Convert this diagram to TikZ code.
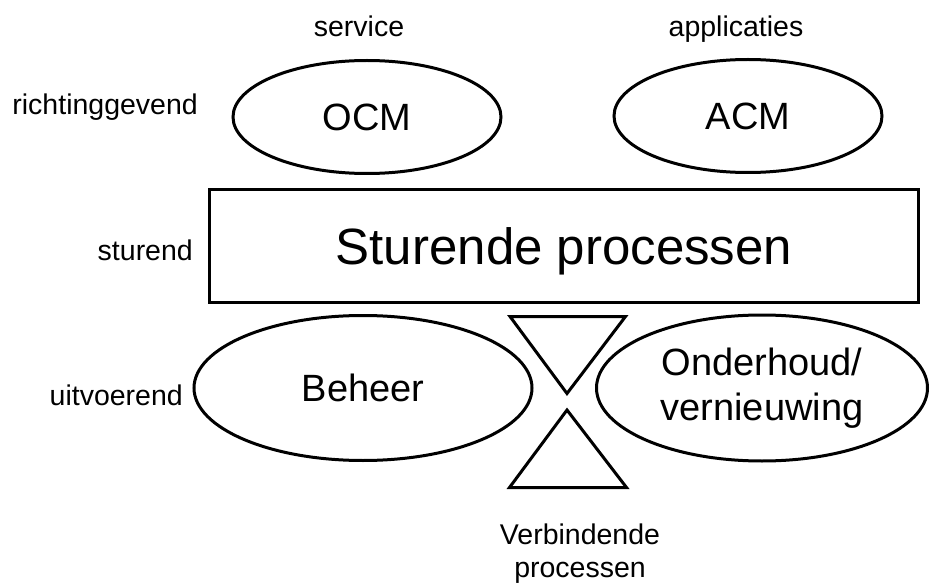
\documentclass[tikz,border=0pt]{standalone}
\usepackage{fontspec}
\setmainfont{Liberation Sans}
\usetikzlibrary{shapes.geometric}
\begin{document}
\begin{tikzpicture}[x=1pt,y=-1pt,
  ell/.style={draw,ellipse,line width=3pt,inner sep=0pt,font=\fontsize{38}{45}\selectfont,align=center},
  lbl/.style={font=\fontsize{28.5}{33}\selectfont,inner sep=0pt},
  tri/.style={draw,line width=3pt,line join=miter}]
\useasboundingbox[fill=white] (0,0) rectangle (930,583);
% side and top labels
\node[lbl,anchor=base] (service) at (359,37) {service};
\node[lbl,anchor=base] (appl) at (736,37) {applicaties};
\node[lbl,anchor=base east] (richt) at (198,115) {richtinggevend};
\node[lbl,anchor=base east] (sturend) at (193,260) {sturend};
\node[lbl,anchor=base east] (uitv) at (183,405) {uitvoerend};
% ellipses
\node[ell,minimum width=268pt,minimum height=113pt] (ocm) at (367,117) {OCM};
\node[ell,minimum width=268pt,minimum height=113pt] (acm) at (748,116) {ACM};
\node[ell,minimum width=338pt,minimum height=145pt] (beheer) at (363,388) {Beheer};
\node[ell,minimum width=331pt,minimum height=146pt] (onder) at (762,388) {Onderhoud/\\vernieuwing};
% rectangle
\node[draw,line width=3.5pt,minimum width=709pt,minimum height=113pt,inner sep=0pt,
  font=\fontsize{51}{60}\selectfont,text height=36pt,text depth=0pt] (sturende) at (564,246) {Sturende processen};
% hourglass triangles
\coordinate (t1a) at (510,316.5);
\coordinate (t1b) at (625.5,316.5);
\coordinate (t1c) at (567,393.5);
\coordinate (t2a) at (567,410);
\coordinate (t2b) at (626.5,487.5);
\coordinate (t2c) at (509.5,487.5);
\draw[tri] (t1a) -- (t1b) -- (t1c) -- cycle;
\draw[tri] (t2a) -- (t2b) -- (t2c) -- cycle;
% bottom label
\node[lbl,align=center] (verb) at (580,554) {Verbindende\\processen};
\end{tikzpicture}
\end{document}
